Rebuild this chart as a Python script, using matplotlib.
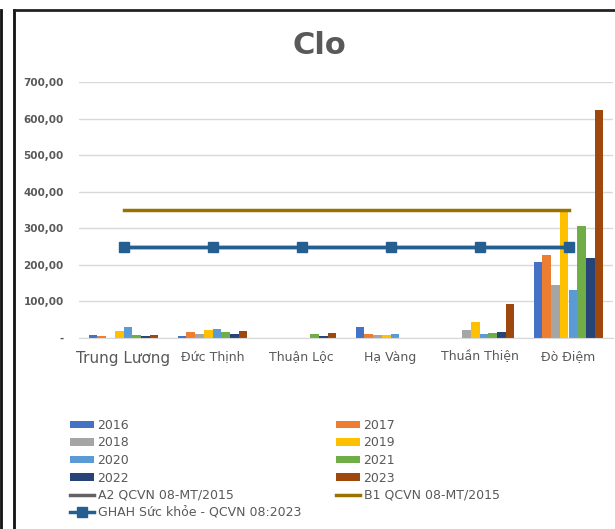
import numpy as np
import matplotlib.pyplot as plt
from matplotlib.lines import Line2D
from matplotlib.ticker import FuncFormatter

nan = np.nan

sites = ["Trung Lương", "Đức Thịnh", "Thuận Lộc", "Hạ Vàng", "Thuần Thiện", "Đò Điệm"]
years = ["2016", "2017", "2018", "2019", "2020", "2021", "2022", "2023"]

# Clo concentration per year, one value per site
clo_2016 = [7, 6, nan, 30, nan, 208]
clo_2017 = [5, 16, nan, 12, nan, 226]
clo_2018 = [nan, 11, nan, 9, 22, 145]
clo_2019 = [19, 22, nan, 9, 44, 345]
clo_2020 = [30, 24, nan, 12, 10, 131]
clo_2021 = [8, 16, 12, nan, 13, 306]
clo_2022 = [6, 11, 6, nan, 16, 218]
clo_2023 = [8, 19, 15, nan, 93, 623]

a2_limit = [250] * 6
b1_limit = [350] * 6
ghah_limit = [250] * 6

series = [clo_2016, clo_2017, clo_2018, clo_2019, clo_2020, clo_2021, clo_2022, clo_2023]
colors = ['#4472C4', '#ED7D31', '#A5A5A5', '#FFC000',
          '#5B9BD5', '#70AD47', '#264478', '#9E480E']

text_color = '#595959'

fig = plt.figure(figsize=(6.15, 5.29), dpi=100)
ax = fig.add_axes([79 / 615, 1 - 338 / 529, 534 / 615, 256 / 529])

x = np.arange(len(sites))
bar_w = 0.098
bars = []
for i, (vals, col) in enumerate(zip(series, colors)):
    b = ax.bar(x + (i - 3.5) * bar_w, vals, bar_w, color=col,
               label=years[i], zorder=2)
    bars.append(b)

a2, = ax.plot(x, a2_limit, color='#636363', linewidth=2.5, zorder=3,
              label='A2 QCVN 08-MT/2015')
b1, = ax.plot(x, b1_limit, color='#997300', linewidth=2.5, zorder=3,
              label='B1 QCVN 08-MT/2015')
gh, = ax.plot(x, ghah_limit, color='#255E91', linewidth=2.5, marker='s',
              markersize=7, zorder=4, label='GHAH Sức khỏe - QCVN 08:2023')

ax.set_xlim(-0.5, 5.5)
ax.set_ylim(0, 700)
ax.set_yticks(np.arange(0, 701, 100))


def fmt(v, pos):
    if v == 0:
        return '-'
    return f"{v:.2f}".replace('.', ',')


ax.yaxis.set_major_formatter(FuncFormatter(fmt))
ax.yaxis.grid(True, color='#D9D9D9', linewidth=1, zorder=0)
ax.set_axisbelow(True)
for s in ['top', 'right', 'left']:
    ax.spines[s].set_visible(False)
ax.spines['bottom'].set_color('#D9D9D9')
ax.tick_params(axis='both', length=0, colors=text_color)
ax.tick_params(axis='y', pad=11)
for lbl in ax.get_yticklabels():
    lbl.set_fontsize(7.5)
    lbl.set_fontweight('bold')

ax.set_xticks(x)
ax.set_xticklabels(sites)
for i, lbl in enumerate(ax.get_xticklabels()):
    lbl.set_fontsize(11 if i == 0 else 9)
ax.tick_params(axis='x', pad=9)

fig.text(0.52, 1 - 45 / 529, 'Clo', ha='center', va='center',
         fontsize=22, fontweight='bold', color=text_color)

# two legend columns placed separately
leg_kw = dict(loc='upper left', frameon=False, fontsize=9,
              labelcolor=text_color, handlelength=1.9, handleheight=0.55,
              handletextpad=0.3, labelspacing=0.36, borderaxespad=0)
left_h = [bars[0], bars[2], bars[4], bars[6], a2, gh]
right_h = [bars[1], bars[3], bars[5], bars[7], b1]
leg1 = fig.legend(left_h, [h.get_label() for h in left_h],
                  bbox_to_anchor=(65 / 615, 1 - 414 / 529), **leg_kw)
leg2 = fig.legend(right_h, [h.get_label() for h in right_h],
                  bbox_to_anchor=(331 / 615, 1 - 414 / 529), **leg_kw)

# outer frame lines
fig.add_artist(Line2D([1 / 615, 1 / 615], [0, 1 - 10 / 529], color='#111111', lw=2))
fig.add_artist(Line2D([14 / 615, 14 / 615], [0, 1 - 10 / 529], color='#111111', lw=2))
fig.add_artist(Line2D([14 / 615, 1], [1 - 10 / 529, 1 - 10 / 529], color='#222222', lw=2))

fig.savefig('out.png', dpi=100)
